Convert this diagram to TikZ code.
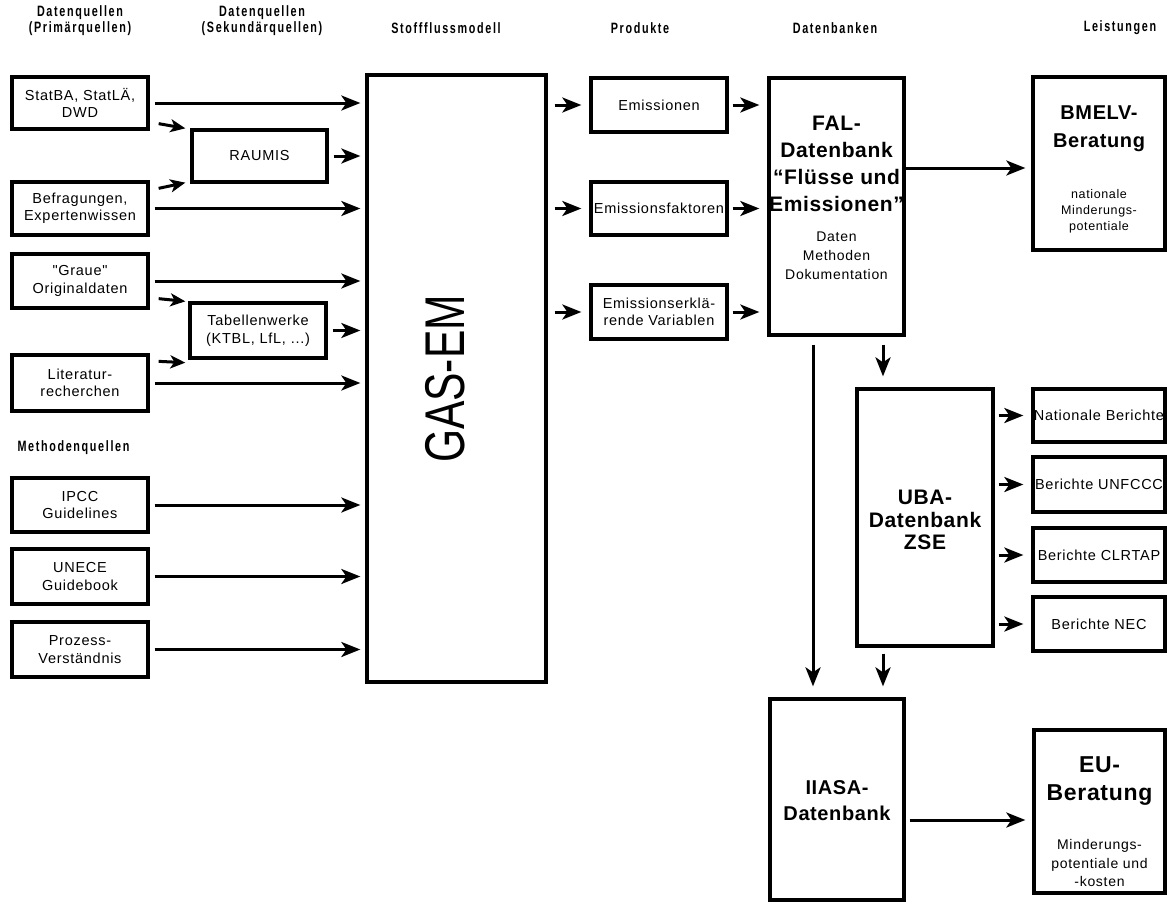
\documentclass[tikz,border=0pt]{standalone}
\usepackage{fontspec}
\setmainfont{Liberation Sans}
\newfontfamily\bodyfont[LetterSpace=5]{Liberation Sans}
\newfontfamily\hdrfont[LetterSpace=11,FakeStretch=0.72]{Liberation Sans}
\newfontfamily\bigfont[LetterSpace=3]{Liberation Sans}
\newfontfamily\gasfont[FakeStretch=0.76]{Liberation Sans}
\usetikzlibrary{arrows.meta,calc}
\tikzset{
  box/.style={draw, line width=3.3pt, inner sep=0pt, align=center,
    font=\bodyfont\fontsize{14.5}{17.5}\selectfont},
  hdr/.style={align=center, font=\hdrfont\bfseries\fontsize{15}{16}\selectfont},
  bigt/.style={align=center, font=\bigfont\bfseries\fontsize{21}{27}\selectfont},
  smallt/.style={align=center, font=\bodyfont\fontsize{14}{19}\selectfont},
  arr/.style={line width=3pt, -{Stealth[length=19pt,width=15pt,inset=5pt]}},
  sarr/.style={line width=3pt, -{Stealth[length=15pt,width=13pt,inset=4pt]}},
  ln/.style={line width=3pt}
}
\begin{document}
\begin{tikzpicture}[x=1pt,y=-1pt]
\useasboundingbox (0,0) rectangle (1167,905);
% headers
\node[hdr] (h1) at (80,21) {Datenquellen\\(Primärquellen)};
\node[hdr] (h2) at (262,21) {Datenquellen\\(Sekundärquellen)};
\node[hdr] (h3) at (446,28) {Stoffflussmodell};
\node[hdr] (h4) at (640,28) {Produkte};
\node[hdr] (h5) at (835,28) {Datenbanken};
\node[hdr] (h6) at (1120,28) {Leistungen};
\node[hdr, anchor=west] (h7) at (14,448) {Methodenquellen};
% left boxes
\node[box, minimum width=136pt, minimum height=52pt] (stat) at (80,103) {StatBA, StatLÄ,\\DWD};
\node[box, minimum width=135pt, minimum height=52pt] (raumis) at (259.5,156) {RAUMIS};
\node[box, minimum width=136pt, minimum height=53pt] (bef) at (80,208.5) {Befragungen,\\Expertenwissen};
\node[box, minimum width=136pt, minimum height=54pt] (graue) at (80,281) {"Graue"\\Originaldaten};
\node[box, minimum width=136pt, minimum height=55pt] (tab) at (258,330.5) {Tabellenwerke\\(KTBL, LfL, ...)};
\node[box, minimum width=136pt, minimum height=56pt] (lit) at (80,383) {Literatur-\\recherchen};
\node[box, minimum width=136pt, minimum height=54pt] (ipcc) at (80,505) {IPCC\\Guidelines};
\node[box, minimum width=136pt, minimum height=55pt] (unece) at (80,576.5) {UNECE\\Guidebook};
\node[box, minimum width=136pt, minimum height=55pt] (proz) at (80,649.5) {Prozess-\\Verständnis};
% GAS-EM
\node[box, minimum width=179pt, minimum height=607pt] (gas) at (456.5,378.5) {};
\node[rotate=90, font=\gasfont\fontsize{56}{60}\selectfont] (gast) at (445,379) {GAS-EM};
% products
\node[box, minimum width=136pt, minimum height=54pt] (em) at (659,105) {Emissionen};
\node[box, minimum width=136pt, minimum height=53pt] (ef) at (659,208.5) {Emissionsfaktoren};
\node[box, minimum width=136pt, minimum height=54pt] (ee) at (659,312) {Emissionserklä-\\rende Variablen};
% databases
\node[box, minimum width=135pt, minimum height=257pt] (fal) at (836.5,206.5) {};
\node[bigt] (falt) at (836.5,164) {FAL-\\Datenbank\\“Flüsse und\\Emissionen”};
\node[smallt] (fals) at (836.5,256) {Daten\\Methoden\\Dokumentation};
\node[box, minimum width=136pt, minimum height=257pt] (uba) at (925,517.5) {};
\node[bigt, font=\bigfont\bfseries\fontsize{21}{22.5}\selectfont] (ubat) at (925,520) {UBA-\\Datenbank\\ZSE};
\node[box, minimum width=134pt, minimum height=201pt] (iiasa) at (837,799.5) {};
\node[bigt, font=\bigfont\bfseries\fontsize{20}{26}\selectfont] (iiasat) at (837,801) {IIASA-\\Datenbank};
% services
\node[box, minimum width=132pt, minimum height=173pt] (bmelv) at (1099,163.5) {};
\node[bigt, font=\bigfont\bfseries\fontsize{20}{28}\selectfont] (bmelvt) at (1099,128.5) {BMELV-\\Beratung};
\node[smallt, font=\bodyfont\fontsize{12.5}{16}\selectfont] (bmelvs) at (1099,211) {nationale\\Minderungs-\\potentiale};
\node[box, minimum width=131pt, minimum height=163pt] (eu) at (1099.5,811.5) {};
\node[bigt, font=\bigfont\bfseries\fontsize{23}{28}\selectfont] (eut) at (1099.5,781) {EU-\\Beratung};
\node[smallt, font=\bodyfont\fontsize{14}{18.5}\selectfont] (eus) at (1099.5,863) {Minderungs-\\potentiale und\\-kosten};
% reports
\node[box, minimum width=132pt, minimum height=53pt] (nat) at (1099,415.5) {Nationale Berichte};
\node[box, minimum width=132pt, minimum height=55pt] (unf) at (1099,484.5) {Berichte UNFCCC};
\node[box, minimum width=132pt, minimum height=54pt] (clr) at (1099,555) {Berichte CLRTAP};
\node[box, minimum width=132pt, minimum height=54pt] (nec) at (1099,624) {Berichte NEC};
% arrows into GAS-EM
\foreach \n in {stat,raumis,bef,graue,tab,lit,ipcc,unece,proz}
  \draw[arr, shorten <=5pt, shorten >=5pt] (\n.east) -- (\n.east -| gas.west);
% diagonal arrows
\draw[sarr] ([shift={(9pt,7pt)}]stat.south east) -- ([shift={(-5pt,0pt)}]raumis.north west);
\draw[sarr] ([shift={(9pt,-8pt)}]bef.north east) -- ([shift={(-5pt,1pt)}]raumis.south west);
\draw[sarr] ([shift={(9pt,11pt)}]graue.south east) -- ([shift={(-3pt,0pt)}]tab.north west);
\draw[sarr] ([shift={(9pt,-8pt)}]lit.north east) -- ([shift={(-3pt,-3pt)}]tab.south west);
% GAS-EM -> products -> FAL
\foreach \n in {em,ef,ee}{
  \draw[arr, shorten <=7pt, shorten >=8pt] (gas.east |- \n.west) -- (\n.west);
  \draw[arr, shorten <=4pt, shorten >=8pt] (\n.east) -- (\n.east -| fal.west);
}
% FAL -> BMELV
\coordinate (bmin) at ([yshift=-4.5pt]bmelv.west);
\draw[arr, shorten >=6pt] (fal.east |- bmin) -- (bmin);
% FAL down
\draw[arr, shorten <=8pt, shorten >=11pt] ([xshift=-23.5pt]fal.south) -- ([xshift=-23.5pt]fal.south |- iiasa.north);
\draw[arr, shorten <=8pt, shorten >=11pt] ([xshift=46.5pt]fal.south) -- ([xshift=46.5pt]fal.south |- uba.north);
\draw[arr, shorten <=6pt, shorten >=11pt] ([xshift=-42pt]uba.south) -- ([xshift=-42pt]uba.south |- iiasa.north);
% UBA -> reports
\foreach \n in {nat,unf,clr,nec}
  \draw[arr, shorten <=4pt, shorten >=8pt] (uba.east |- \n.west) -- (\n.west);
% IIASA -> EU
\coordinate (euin) at ([yshift=-8.5pt]eu.west);
\draw[arr, shorten <=4pt, shorten >=7pt] (iiasa.east |- euin) -- (euin);
\end{tikzpicture}
\end{document}
